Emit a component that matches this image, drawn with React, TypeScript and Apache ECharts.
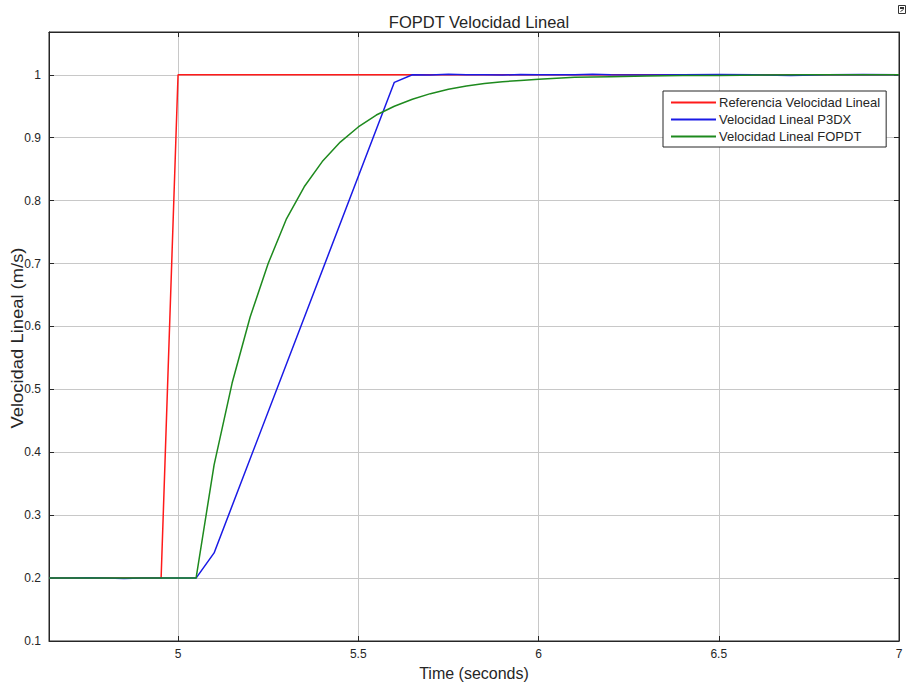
import React, { useEffect, useRef } from "react";
import * as echarts from "echarts";

// ---- data ----
const xTicks = [5, 5.5, 6, 6.5, 7];
const yTicks = [0.1, 0.2, 0.3, 0.4, 0.5, 0.6, 0.7, 0.8, 0.9, 1];

const refTime = [4.642, 4.7, 4.8, 4.9, 4.953, 5.0, 5.5, 6.0, 6.5, 7.0];
const refValues = [0.2, 0.2, 0.2, 0.2, 0.2, 1.0, 1.0, 1.0, 1.0, 1.0];

const p3dxTime = [4.642, 4.7, 4.75, 4.8, 4.85, 4.9, 4.95, 5.0, 5.05, 5.1, 5.6, 5.65, 5.7, 5.75, 5.8, 5.85, 5.9, 5.95, 6.0, 6.05, 6.1, 6.15, 6.2, 6.3, 6.4, 6.5, 6.6, 6.7, 6.8, 6.9, 7.0];
const p3dxValues = [0.2, 0.2, 0.2005, 0.2, 0.1995, 0.2, 0.2, 0.2, 0.2, 0.24, 0.988, 1.0, 0.9995, 1.001, 1.0, 1.0, 0.9995, 1.0005, 1.0, 1.0, 1.0, 1.001, 1.0, 0.9995, 1.0, 1.0005, 1.0, 0.999, 1.0, 1.0005, 1.0];

const fopdtTime = [4.642, 4.7, 4.8, 4.9, 5.0, 5.05, 5.1, 5.15, 5.2, 5.25, 5.3, 5.35, 5.4, 5.45, 5.5, 5.55, 5.6, 5.65, 5.7, 5.75, 5.8, 5.85, 5.9, 5.95, 6.0, 6.1, 6.2, 6.3, 6.4, 6.5, 6.75, 7.0];
const fopdtValues = [0.2, 0.2, 0.2, 0.2, 0.2, 0.2, 0.38, 0.51, 0.615, 0.7, 0.77, 0.822, 0.862, 0.893, 0.917, 0.936, 0.95, 0.961, 0.97, 0.977, 0.982, 0.986, 0.989, 0.991, 0.993, 0.996, 0.997, 0.998, 0.999, 0.999, 1.0, 1.0];

const seriesNames = ["Referencia Velocidad Lineal", "Velocidad Lineal P3DX", "Velocidad Lineal FOPDT"];
const seriesColors = ["#ff1a1a", "#1a1ae6", "#1e8a1e"];

const zip = (t: number[], v: number[]) => t.map((x, i) => [x, v[i]]);

export default function App() {
  const ref = useRef<HTMLDivElement>(null);
  useEffect(() => {
    if (!ref.current) return;
    const chart = echarts.init(ref.current, null, { renderer: "svg" });
    const font = "Liberation Sans, Arial, sans-serif";
    const xMin = 4.642;
    const xMax = 7.0;
    const yMin = 0.1;
    const yMax = 1.068;
    const gridLine = { show: true, lineStyle: { color: "#c8c8c8", width: 1 } };
    chart.setOption({
      animation: false,
      backgroundColor: "#ffffff",
      title: {
        text: "FOPDT Velocidad Lineal",
        left: 474,
        top: 8,
        textAlign: "center",
        textStyle: { fontFamily: font, fontSize: 16.5, fontWeight: "normal", color: "#262626" },
      },
      grid: {
        left: 49,
        right: 9,
        top: 32,
        bottom: 41,
        containLabel: false,
        outerBoundsMode: "none",
        show: true,
        borderColor: "#262626",
        borderWidth: 1,
        backgroundColor: "#ffffff",
      },
      legend: {
        orient: "vertical",
        left: 663,
        top: 91,
        data: seriesNames,
        icon: "rect",
        itemWidth: 45,
        itemHeight: 2,
        itemGap: 4,
        padding: [5, 6, 4, 8],
        borderColor: "#262626",
        borderWidth: 1,
        backgroundColor: "#ffffff",
        textStyle: { fontFamily: font, fontSize: 13, color: "#262626", padding: [0, 0, 0, -2] },
      },
      xAxis: [
        {
          type: "value",
          min: xMin,
          max: xMax,
          name: "Time (seconds)",
          nameLocation: "middle",
          nameGap: 24,
          nameTextStyle: { fontFamily: font, fontSize: 16, color: "#262626" },
          axisLine: { show: true, onZero: false, lineStyle: { color: "#262626", width: 1 } },
          axisTick: { show: true, inside: true, length: 5, customValues: xTicks, lineStyle: { color: "#262626" } },
          axisLabel: { customValues: xTicks, fontFamily: font, fontSize: 12, color: "#262626", margin: 7 },
          splitLine: gridLine,
        },
        {
          type: "value",
          position: "top",
          min: xMin,
          max: xMax,
          axisLine: { show: true, onZero: false, lineStyle: { color: "#262626", width: 1 } },
          axisTick: { show: true, inside: true, length: 5, customValues: xTicks, lineStyle: { color: "#262626" } },
          axisLabel: { show: false },
          splitLine: { show: false },
        },
      ],
      yAxis: [
        {
          type: "value",
          min: yMin,
          max: yMax,
          axisLine: { show: true, onZero: false, lineStyle: { color: "#262626", width: 1 } },
          axisTick: { show: true, inside: true, length: 5, customValues: yTicks, lineStyle: { color: "#262626" } },
          axisLabel: {
            customValues: yTicks,
            fontFamily: font,
            fontSize: 12,
            color: "#262626",
            margin: 8,
            formatter: (v: number) => String(Math.round(v * 10) / 10),
          },
          splitLine: gridLine,
        },
        {
          type: "value",
          position: "right",
          min: yMin,
          max: yMax,
          axisLine: { show: true, onZero: false, lineStyle: { color: "#262626", width: 1 } },
          axisTick: { show: true, inside: true, length: 5, customValues: yTicks, lineStyle: { color: "#262626" } },
          axisLabel: { show: false },
          splitLine: { show: false },
        },
      ],
      series: [
        { name: seriesNames[0], type: "line", data: zip(refTime, refValues) },
        { name: seriesNames[1], type: "line", data: zip(p3dxTime, p3dxValues) },
        { name: seriesNames[2], type: "line", data: zip(fopdtTime, fopdtValues) },
      ].map((s, i) => ({
        ...s,
        xAxisIndex: 0,
        yAxisIndex: 0,
        symbol: "none",
        showSymbol: false,
        color: seriesColors[i],
        lineStyle: { color: seriesColors[i], width: 1.5 },
        emphasis: { disabled: true },
      })),
      graphic: [
        {
          type: "text",
          x: 17,
          y: 338,
          rotation: Math.PI / 2,
          scaleX: 1.15,
          style: {
            text: "Velocidad Lineal (m/s)",
            fontFamily: font,
            fontSize: 16,
            fill: "#262626",
            align: "center",
            verticalAlign: "middle",
          },
        },
        {
          type: "group",
          left: 898,
          top: 5,
          children: [
            { type: "rect", shape: { x: 0, y: 0, width: 7, height: 8 }, style: { fill: "#ffffff", stroke: "#333333", lineWidth: 1 } },
            { type: "rect", shape: { x: 1.5, y: 1.5, width: 4, height: 2 }, style: { fill: "#333333" } },
            { type: "line", shape: { x1: 2, y1: 6, x2: 5, y2: 4 }, style: { stroke: "#333333", lineWidth: 1 } },
          ],
        },
      ],
    });
    return () => chart.dispose();
  }, []);
  return (
    <div
      ref={ref}
      style={{ position: "fixed", left: 0, top: 0, width: 908, height: 682, background: "#ffffff" }}
    />
  );
}
